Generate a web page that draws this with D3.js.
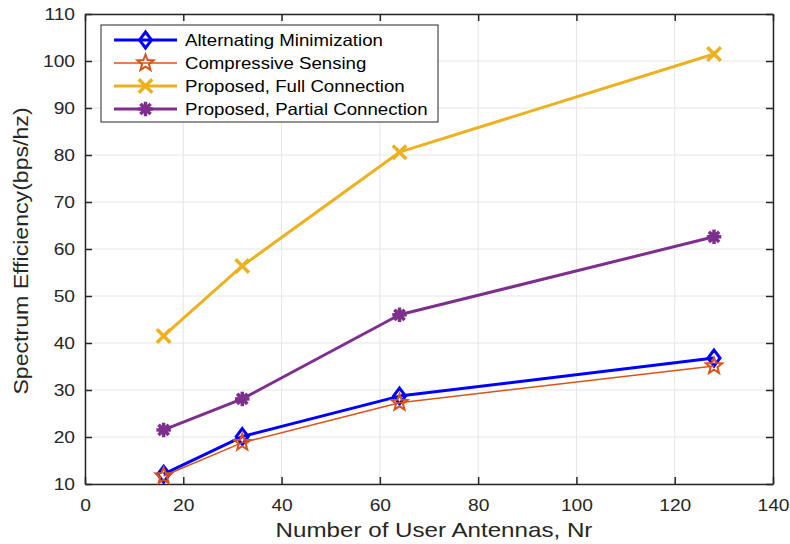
<!DOCTYPE html>
<html>
<head>
<meta charset="utf-8">
<script src="https://cdn.jsdelivr.net/npm/d3@7"></script>
<style>
  html, body { margin: 0; padding: 0; background: #fff; }
  svg { display: block; font-family: "Liberation Sans", Arial, sans-serif; }
</style>
</head>
<body>
<svg id="chart" width="790" height="544"></svg>
<script>
// Number of user antennas (x values)
const antennas = [16, 32, 64, 128];

// Spectrum efficiency per method (bps/Hz)
const altMin     = [12.1, 20.1, 28.7, 36.8];
const compSense  = [11.7, 18.8, 27.3, 35.1];
const fullConn   = [41.5, 56.4, 80.6, 101.5];
const partConn   = [21.5, 28.1, 46.0, 62.6];

const seriesNames = [
  "Alternating Minimization",
  "Compressive Sensing",
  "Proposed, Full Connection",
  "Proposed, Partial Connection"
];

const xTicks = [0, 20, 40, 60, 80, 100, 120, 140];
const yTicks = [10, 20, 30, 40, 50, 60, 70, 80, 90, 100, 110];

const series = [
  { name: seriesNames[0], values: altMin,    color: "#0000FF", width: 3,   marker: "diamond" },
  { name: seriesNames[1], values: compSense, color: "#D95319", width: 1.5, marker: "star" },
  { name: seriesNames[2], values: fullConn,  color: "#EDB120", width: 3,   marker: "cross" },
  { name: seriesNames[3], values: partConn,  color: "#7E2F8E", width: 3,   marker: "asterisk" }
];

const svg = d3.select("#chart");
const plotL = 85, plotR = 773, plotT = 14, plotB = 484;

const x = d3.scaleLinear().domain([0, 140]).range([plotL, plotR]);
const y = d3.scaleLinear().domain([10, 110]).range([plotB, plotT]);

// Widen a text element horizontally by factor k (wide figure font)
function widen(sel, k) {
  sel.each(function () {
    const w = this.getComputedTextLength();
    d3.select(this).attr("textLength", w * k).attr("lengthAdjust", "spacingAndGlyphs");
  });
}

// Grid lines
const grid = svg.append("g");
grid.selectAll(".gx").data(xTicks).join("line")
  .attr("x1", d => x(d)).attr("x2", d => x(d))
  .attr("y1", plotT).attr("y2", plotB)
  .attr("stroke", "#e6e6e6").attr("stroke-width", 1);
grid.selectAll(".gy").data(yTicks).join("line")
  .attr("x1", plotL).attr("x2", plotR)
  .attr("y1", d => y(d)).attr("y2", d => y(d))
  .attr("stroke", "#e6e6e6").attr("stroke-width", 1);

// Axes with inward ticks
const axisColor = "#262626";
const bottomAxis = svg.append("g").attr("transform", `translate(0,${plotB})`)
  .call(d3.axisBottom(x).tickValues(xTicks).tickSizeInner(-7).tickSizeOuter(0).tickPadding(16));
const leftAxis = svg.append("g").attr("transform", `translate(${plotL},0)`)
  .call(d3.axisLeft(y).tickValues(yTicks).tickSizeInner(-7).tickSizeOuter(0).tickPadding(10));
const topAxis = svg.append("g").attr("transform", `translate(0,${plotT})`)
  .call(d3.axisTop(x).tickValues(xTicks).tickSizeInner(-7).tickSizeOuter(0).tickFormat(""));
const rightAxis = svg.append("g").attr("transform", `translate(${plotR},0)`)
  .call(d3.axisRight(y).tickValues(yTicks).tickSizeInner(-7).tickSizeOuter(0).tickFormat(""));

[bottomAxis, leftAxis, topAxis, rightAxis].forEach(g => {
  g.select(".domain").attr("stroke", axisColor).attr("stroke-width", 1.5);
  g.selectAll(".tick line").attr("stroke", axisColor).attr("stroke-width", 1.5);
  g.selectAll(".tick text").attr("fill", "#262626")
    .style("font-size", "16px").style("font-family", "'Liberation Sans', Arial, sans-serif");
});
widen(bottomAxis.selectAll(".tick text"), 1.2);
widen(leftAxis.selectAll(".tick text"), 1.2);

// Axis titles
svg.append("text")
  .attr("x", (plotL + plotR) / 2 + 5).attr("y", 537)
  .attr("text-anchor", "middle").attr("fill", "#262626")
  .style("font-size", "21px")
  .text("Number of User Antennas, Nr")
  .call(widen, 1.15);
svg.append("text")
  .attr("transform", `translate(28,251) rotate(-90)`)
  .attr("text-anchor", "middle").attr("fill", "#262626")
  .style("font-size", "21px")
  .text("Spectrum Efficiency(bps/hz)")
  .call(widen, 1.1);

// Marker drawing
function drawMarker(g, type, cx, cy, color) {
  if (type === "diamond") {
    g.append("path")
      .attr("d", `M${cx},${cy - 8}L${cx + 6},${cy}L${cx},${cy + 8}L${cx - 6},${cy}Z`)
      .attr("fill", "none").attr("stroke", color).attr("stroke-width", 3);
  } else if (type === "star") {
    const pts = [];
    for (let i = 0; i < 10; i++) {
      const r = i % 2 === 0 ? 8.5 : 3.6;
      const a = -Math.PI / 2 + i * Math.PI / 5;
      pts.push([cx + r * Math.cos(a), cy + r * Math.sin(a)]);
    }
    g.append("path").attr("d", "M" + pts.join("L") + "Z")
      .attr("fill", "none").attr("stroke", color).attr("stroke-width", 2);
  } else if (type === "cross") {
    const s = 5.5;
    g.append("path")
      .attr("d", `M${cx - s},${cy - s}L${cx + s},${cy + s}M${cx - s},${cy + s}L${cx + s},${cy - s}`)
      .attr("stroke", color).attr("stroke-width", 3.5).attr("stroke-linecap", "square");
  } else if (type === "asterisk") {
    const s = 5.5;
    for (let i = 0; i < 4; i++) {
      const a = i * Math.PI / 4;
      g.append("line")
        .attr("x1", cx - s * Math.cos(a)).attr("y1", cy - s * Math.sin(a))
        .attr("x2", cx + s * Math.cos(a)).attr("y2", cy + s * Math.sin(a))
        .attr("stroke", color).attr("stroke-width", 3.5).attr("stroke-linecap", "square");
    }
    g.append("circle").attr("cx", cx).attr("cy", cy).attr("r", 4.5).attr("fill", color);
  }
}

// Lines and markers
const line = d3.line().x((d, i) => x(antennas[i])).y(d => y(d));
const plot = svg.append("g");
series.forEach(s => {
  plot.append("path").datum(s.values)
    .attr("d", line)
    .attr("fill", "none").attr("stroke", s.color)
    .attr("stroke-width", s.width).attr("stroke-linejoin", "round");
  const mg = plot.append("g");
  s.values.forEach((v, i) => drawMarker(mg, s.marker, x(antennas[i]), y(v), s.color));
});

// Legend
const lg = svg.append("g");
lg.append("rect").attr("x", 101).attr("y", 25).attr("width", 337).attr("height", 97)
  .attr("fill", "#fff").attr("stroke", "#262626").attr("stroke-width", 1);
series.forEach((s, i) => {
  const ly = 40 + i * 23;
  lg.append("line").attr("x1", 114).attr("x2", 177).attr("y1", ly).attr("y2", ly)
    .attr("stroke", s.color).attr("stroke-width", s.width);
  drawMarker(lg, s.marker, 145.5, ly, s.color);
  lg.append("text").attr("x", 185).attr("y", ly + 6)
    .attr("fill", "#000").style("font-size", "16.5px")
    .text(s.name)
    .call(widen, 1.13);
});
</script>
</body>
</html>
